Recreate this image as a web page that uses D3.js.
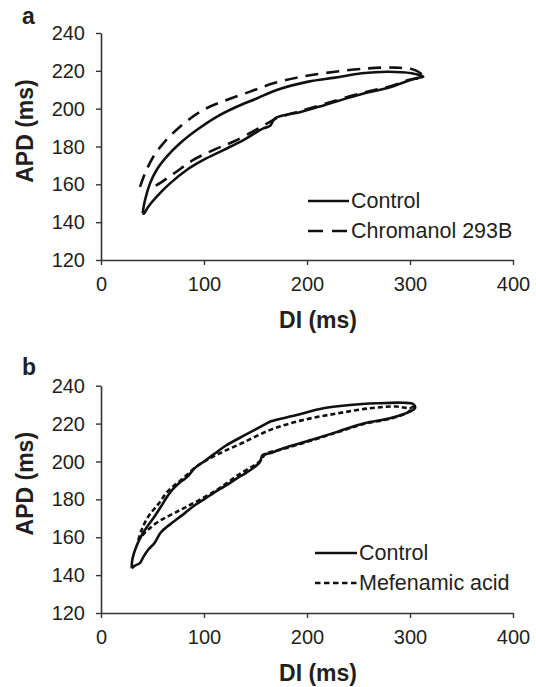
<!DOCTYPE html>
<html>
<head>
<meta charset="utf-8">
<script src="https://cdn.jsdelivr.net/npm/d3@7"></script>
<style>
  html, body { margin: 0; padding: 0; background: #fff; }
  svg { display: block; }
  text { font-family: "Liberation Sans", Arial, Helvetica, sans-serif; fill: #231f20; }
</style>
</head>
<body>
<svg id="chart" width="536" height="687"></svg>
<script>
// ---- Data (DI in ms, APD in ms) ----
const xTicks = [0, 100, 200, 300, 400];
const yTicks = [120, 140, 160, 180, 200, 220, 240];

// Panel a: Control (solid) restitution loop
const controlA = [
  [40.4,144.7],[42.7,151.6],[47.6,160.5],[54,167.6],[63.8,174.6],[76.7,181.7],[92.9,188.7],
  [112.3,195.7],[131.7,201],[151.2,205.4],[170.6,209.9],[201.3,214.3],[227.2,216.4],
  [253.1,218.7],[279,219.5],[301.6,218.7],[312.9,216.9],
  [304.9,216.0],[282.2,211.6],[249.8,207.2],[217.5,202],[194.8,198.4],[169,194.9],
  [164,190.8],[157.6,189.6],[138.2,183.4],[118.8,178.1],[99.4,172.9],[83.2,167.6],
  [67,160.5],[54.1,153.5],[45.9,148.2],[41.5,144.5],[40.4,144.7]
];
// Panel a: Chromanol 293B (dashed)
const chromanolA = [
  [37.9,158.7],[42.7,165.8],[50.8,174.6],[60.5,181.7],[76.7,190.5],[99.3,199.3],[122,204.6],
  [144.7,209],[167.3,213.4],[194.8,216.9],[227.2,219.5],[259.5,221.3],[285.4,221.7],
  [304.9,220.4],[312.6,217],
  [298.4,215.1],[282,212],[250,207.8],[217.5,202.6],[195,199],[170.6,195],[165.7,193.5],
  [131.7,183.4],[109,178.1],[89.6,172.9],[70.2,165.5],[54,159.6],[45,157.5]
];

// Panel b: Control (solid)
const controlB = [
  [29.8,143.6],[30.5,148.5],[34.6,155.5],[40,161.5],[46,166.5],[52,171],[58,176],[65,182],
  [70,185.5],[78,189.5],[84,192],[91,196.5],[100,200],[110,204],[121,208.3],[140,214],
  [160,219.8],[165,221.2],[190,224.5],[215.8,228.1],[241.7,229.8],[267.7,230.7],
  [293.5,231],[303.2,230.3],[304.9,228.1],
  [300,226.3],[280.6,222.8],[255.6,220.2],[229.8,215.7],[203.9,211.3],[177,207],
  [164.1,204.3],[157,203.4],[154,199.5],[141,194],[133,191.5],[122,187.5],[114,185],
  [100,180],[90,176.5],[82,173],[70,168],[64,165.5],[58,162.5],[52,157],[46,153.5],
  [41,149.5],[38,146.5],[33,145],[29.8,143.6]
];
// Panel b: Mefenamic acid (dashed)
const mefenamicB = [
  [36.2,158.5],[39.5,164],[46,171],[55.6,177.5],[65.3,184.5],[78.3,190.5],[94.5,198],
  [114,204],[136.6,209.6],[165,216.8],[196.4,221.9],[229.8,225.4],[261.2,228.1],
  [287.1,229],[300,228.1],[303,229],
  [298,226],[280,222.5],[255,219.8],[230,215.5],[204,211],[177,206.6],[160,204],
  [154,200],[133,192.8],[114,185.5],[95,179.5],[82,175.8],[72,173],[63,170.5],
  [55.6,168.2],[48,165],[42.7,162.5],[36.2,158.5]
];

const legendA = ["Control", "Chromanol 293B"];
const legendB = ["Control", "Mefenamic acid"];

// ---- Drawing ----
const svg = d3.select("#chart");

function panel(opts) {
  const x = d3.scaleLinear().domain([0, 400]).range([101, 513]);
  const y = d3.scaleLinear().domain([120, 240]).range([opts.bottom, opts.top]);
  const g = svg.append("g");

  // panel letter
  g.append("text").attr("x", 22).attr("y", opts.letterY)
    .attr("font-size", 23).attr("font-weight", "bold").text(opts.letter);

  // y axis
  const ya = g.append("g").attr("transform", "translate(101,0)")
    .call(d3.axisLeft(y).tickValues(yTicks).tickSize(5).tickSizeOuter(0).tickPadding(11));
  // x axis
  const xa = g.append("g").attr("transform", `translate(0,${opts.bottom})`)
    .call(d3.axisBottom(x).tickValues(xTicks).tickSize(5).tickSizeOuter(0).tickPadding(12));
  [ya, xa].forEach(a => {
    a.select(".domain").attr("stroke", "#333").attr("stroke-width", 1.6);
    a.selectAll(".tick line").attr("stroke", "#333").attr("stroke-width", 1.4);
    a.selectAll(".tick text").attr("font-size", 20).attr("fill", "#231f20")
      .attr("font-family", "Liberation Sans, Arial, sans-serif");
  });
  ya.selectAll(".tick text").attr("dy", "0.33em");

  // axis titles
  g.append("text")
    .attr("transform", `translate(33,${opts.top + 98}) rotate(-90)`)
    .attr("text-anchor", "middle").attr("font-size", 23).attr("font-weight", "bold")
    .text("APD (ms)");
  g.append("text").attr("x", 318).attr("y", opts.bottom + 68)
    .attr("text-anchor", "middle").attr("font-size", 23).attr("font-weight", "bold")
    .text("DI (ms)");

  const line = d3.line().x(d => x(d[0])).y(d => y(d[1])).curve(d3.curveCatmullRom.alpha(0.5));

  g.append("path").datum(opts.dashed).attr("d", line)
    .attr("fill", "none").attr("stroke", "#111").attr("stroke-width", 2.6)
    .attr("stroke-dasharray", opts.dash).attr("stroke-linejoin", "round");
  g.append("path").datum(opts.solid).attr("d", line)
    .attr("fill", "none").attr("stroke", "#111").attr("stroke-width", 2.6)
    .attr("stroke-linejoin", "round");

  // legend
  const lg = g.append("g");
  opts.legend.forEach((name, i) => {
    const ly = opts.legY + i * 30;
    lg.append("line").attr("x1", opts.legX).attr("x2", opts.legX + opts.legLen)
      .attr("y1", ly).attr("y2", ly).attr("stroke", "#111").attr("stroke-width", 2.6)
      .attr("stroke-dasharray", i === 0 ? null : opts.legDash);
    lg.append("text").attr("x", opts.legX + opts.legLen + 2).attr("y", ly + 7)
      .attr("font-size", 21.5).text(name);
  });
}

panel({
  letter: "a", letterY: 24, top: 33, bottom: 260,
  solid: controlA, dashed: chromanolA, dash: "13,8",
  legend: legendA, legX: 308, legLen: 41, legY: 201, legDash: "15,9"
});
panel({
  letter: "b", letterY: 375, top: 385.7, bottom: 613,
  solid: controlB, dashed: mefenamicB, dash: "5,3",
  legend: legendB, legX: 315, legLen: 42, legY: 553, legDash: "5.5,3.5"
});
</script>
</body>
</html>
